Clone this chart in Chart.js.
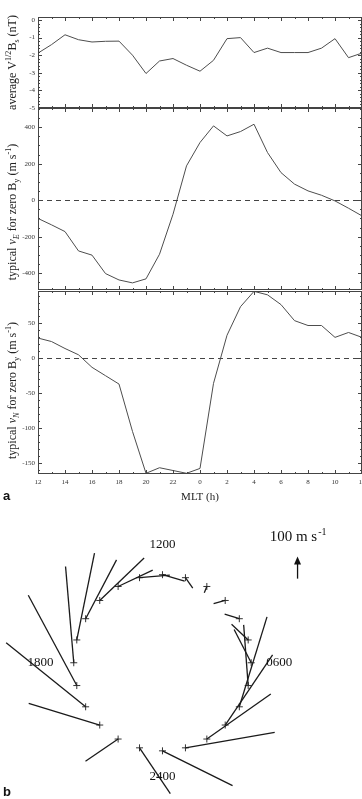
<!DOCTYPE html>
<html>
<head>
<meta charset="utf-8">
<script src="https://cdn.jsdelivr.net/npm/chart.js@4"></script>
<style>
  body { margin: 0; background: #fff; width: 362px; height: 799px; position: relative; overflow: hidden; }
  canvas { position: absolute; left: 0; }
  .tag { position: absolute; font: bold 13px "Liberation Sans", Arial, sans-serif; color: #111; }
</style>
</head>
<body>
<canvas id="bsChart" width="362" height="112" style="top:0"></canvas>
<canvas id="veChart" width="362" height="194" style="top:100px"></canvas>
<canvas id="vnChart" width="362" height="221" style="top:283px"></canvas>
<canvas id="dialChart" width="362" height="289" style="top:510px"></canvas>
<div class="tag" style="left:3px;top:488px">a</div>
<div class="tag" style="left:3px;top:784px">b</div>
<script>
// MLT hours, 12 → 12 of the next day
const hours = [12,13,14,15,16,17,18,19,20,21,22,23,24,25,26,27,28,29,30,31,32,33,34,35,36];
const mltTicks = [12,14,16,18,20,22,24,26,28,30,32,34,36];
const mltTickLabels = ['12','14','16','18','20','22','0','2','4','6','8','10','12'];

// average V^1/2 Bs (nT)
const avgBs = [-1.88,-1.4,-0.84,-1.12,-1.25,-1.21,-1.2,-2.0,-3.04,-2.33,-2.19,-2.57,-2.91,
               -2.29,-1.06,-1.0,-1.85,-1.6,-1.85,-1.85,-1.85,-1.6,-1.06,-2.14,-1.88];
const bsTicks = [0,-1,-2,-3,-4,-5];
// typical vE for zero By (m/s)
const vEast = [-100,-135,-172,-278,-301,-402,-437,-453,-431,-296,-77,188,316,
               407,352,376,416,261,151,88,51,27,-4,-44,-86];
const veTicks = [400,200,0,-200,-400];
// typical vN for zero By (m/s)
const vNorth = [29,24,14,5,-13,-25,-37,-105,-165,-157,-161,-165,-158,
                -36,33,74,96,91,77,54,47,47,30,37,30];
const vnTicks = [50,0,-50,-100,-150];

// dial labels (panel b)
const clockLabels = ['1200','1800','2400','0600'];
const clockHours = [12, 18, 24, 6];
const clockRadius = [537, 550, 518, 526];
const keySpeed = 100;

const serif = '"Liberation Serif","Times New Roman",serif';
const ink = '#333';

function drawRich(ctx, parts, cx, cy, size) {
  ctx.save();
  ctx.translate(cx, cy);
  ctx.rotate(-Math.PI / 2);
  const fontOf = p => (p.it ? 'italic ' : '') + ((p.sub || p.sup) ? size * 0.68 : size) + 'px ' + serif;
  let w = 0;
  parts.forEach(p => { ctx.font = fontOf(p); w += ctx.measureText(p.t).width; });
  let xx = -w / 2;
  ctx.fillStyle = '#222';
  ctx.textBaseline = 'alphabetic';
  parts.forEach(p => {
    ctx.font = fontOf(p);
    const dy = p.sub ? size * 0.22 : p.sup ? -size * 0.4 : 0;
    ctx.fillText(p.t, xx, size * 0.35 + dy);
    xx += ctx.measureText(p.t).width;
  });
  ctx.restore();
}

// box with inward ticks on every side, zero line, and the y title
const framePlugin = {
  id: 'frame',
  afterDatasetsDraw(chart, args, o) {
    const { ctx, chartArea: a, scales: { x, y } } = chart;
    const line = (x1, y1, x2, y2) => { ctx.beginPath(); ctx.moveTo(x1, y1); ctx.lineTo(x2, y2); ctx.stroke(); };
    ctx.save();
    ctx.strokeStyle = '#444';
    ctx.lineWidth = 1;
    if (o.zero) {
      const zy = Math.round(y.getPixelForValue(0)) + 0.5;
      ctx.setLineDash([5, 4]);
      line(a.left, zy, a.right, zy);
      ctx.setLineDash([]);
    }
    ctx.strokeRect(a.left + 0.5, a.top + 0.5, a.right - a.left - 1, a.bottom - a.top - 1);
    const marks = (min, max, step, every, fn) => {
      for (let k = Math.ceil(min / step - 1e-9); k * step <= max + 1e-9; k++) fn(k * step, k % every === 0 ? 4 : 2);
    };
    marks(x.min, x.max, 1, 2, (v, len) => {
      const px = Math.round(x.getPixelForValue(v)) + 0.5;
      line(px, a.top, px, a.top + len);
      line(px, a.bottom, px, a.bottom - len);
    });
    marks(y.min, y.max, o.yMinor, Math.round(o.yMajor / o.yMinor), (v, len) => {
      const py = Math.round(y.getPixelForValue(v)) + 0.5;
      line(a.left, py, a.left + len, py);
      line(a.right, py, a.right - len, py);
    });
    ctx.restore();
    drawRich(ctx, o.title, 12, (a.top + a.bottom) / 2 + (o.titleShift || 0), 12);
  }
};

function panel(id, values, yMin, yMax, yTicks, yMajor, yMinor, frame, pad, showX) {
  return new Chart(document.getElementById(id), {
    type: 'line',
    data: {
      datasets: [{
        data: hours.map((h, i) => ({ x: h, y: values[i] })),
        borderColor: '#4d4d4d',
        borderWidth: 1,
        pointRadius: 0,
        tension: 0
      }]
    },
    options: {
      responsive: false,
      animation: false,
      devicePixelRatio: 1,
      layout: { padding: pad },
      plugins: {
        legend: { display: false },
        tooltip: { enabled: false },
        frame: Object.assign({ yMajor: yMajor, yMinor: yMinor }, frame)
      },
      scales: {
        x: {
          type: 'linear', min: 12, max: 36, display: showX,
          grid: { display: false, drawTicks: false },
          border: { display: false },
          afterBuildTicks(s) { s.ticks = mltTicks.map(v => ({ value: v })); },
          ticks: {
            autoSkip: false, maxRotation: 0, padding: 4,
            font: { family: serif, size: 7 }, color: ink,
            callback: (v, i) => mltTickLabels[i]
          },
          title: { display: true, text: 'MLT (h)', font: { family: serif, size: 11 }, color: '#222', padding: 0 },
          afterFit(s) { if (showX) { s.height = 30; s.paddingLeft = 0; s.paddingRight = 0; } }
        },
        y: {
          min: yMin, max: yMax,
          grid: { display: false, drawTicks: false },
          border: { display: false },
          afterBuildTicks(s) { s.ticks = yTicks.map(v => ({ value: v })); },
          ticks: { padding: 3, font: { family: serif, size: 7 }, color: ink },
          afterFit(s) { s.width = 38; s.paddingTop = 0; s.paddingBottom = 0; }
        }
      }
    },
    plugins: [framePlugin]
  });
}

panel('bsChart', avgBs, -5, 0.17, bsTicks, 1, 0.2,
  { title: [{ t: 'average V' }, { t: '1/2', sup: true }, { t: 'B' }, { t: 's', sub: true }, { t: ' (nT)' }] },
  { top: 17, right: 0, bottom: 4, left: 0 }, false);

panel('veChart', vEast, -492, 505, veTicks, 200, 50,
  { zero: true, titleShift: 13,
    title: [{ t: 'typical ' }, { t: 'v', it: true }, { t: 'E', sub: true, it: true }, { t: ' for zero B' },
            { t: 'y', sub: true }, { t: ' (m s' }, { t: '-1', sup: true }, { t: ')' }] },
  { top: 8, right: 0, bottom: 4, left: 0 }, false);

panel('vnChart', vNorth, -166, 96.5, vnTicks, 50, 10,
  { zero: true, titleShift: 8,
    title: [{ t: 'typical ' }, { t: 'v', it: true }, { t: 'N', sub: true, it: true }, { t: ' for zero B' },
            { t: 'y', sub: true }, { t: ' (m s' }, { t: '-1', sup: true }, { t: ')' }] },
  { top: 8, right: 0, bottom: 0, left: 0 }, true);

// ---- panel b: vectors on an MLT dial (noon up, dusk left), units of m/s
const R = 400;
const polar = (h, r) => {
  const t = (h - 12) * Math.PI / 12;
  return { x: -r * Math.sin(t), y: r * Math.cos(t), t: t };
};
const dialHours = hours.slice(0, 24);
const crossPts = dialHours.map(h => { const p = polar(h, R); return { x: p.x, y: p.y }; });
const vectorSets = dialHours.map((h, i) => {
  const p = polar(h, R), c = Math.cos(p.t), s = Math.sin(p.t);
  // east = direction of increasing MLT, north = toward the pole (centre)
  return {
    data: [{ x: p.x, y: p.y },
           { x: p.x - vEast[i] * c + vNorth[i] * s, y: p.y - vEast[i] * s - vNorth[i] * c }],
    showLine: true, borderColor: '#1a1a1a', borderWidth: 1.3, pointRadius: 0, clip: false
  };
});

const dialText = {
  id: 'dialText',
  afterDraw(chart) {
    const { ctx, scales: { x, y } } = chart;
    ctx.save();
    ctx.fillStyle = '#111';
    ctx.font = '13px ' + serif;
    ctx.textAlign = 'center';
    ctx.textBaseline = 'middle';
    clockLabels.forEach((t, i) => {
      const p = polar(clockHours[i], clockRadius[i]);
      ctx.fillText(t, x.getPixelForValue(p.x), y.getPixelForValue(p.y));
    });
    // speed key
    const kx = x.getPixelForValue(609), k0 = y.getPixelForValue(382), k1 = y.getPixelForValue(382 + keySpeed);
    ctx.strokeStyle = '#111';
    ctx.lineWidth = 1.3;
    ctx.beginPath(); ctx.moveTo(kx, k0); ctx.lineTo(kx, k1 + 5); ctx.stroke();
    ctx.beginPath(); ctx.moveTo(kx, k1); ctx.lineTo(kx - 3.5, k1 + 8); ctx.lineTo(kx + 3.5, k1 + 8); ctx.closePath(); ctx.fill();
    ctx.textAlign = 'left';
    ctx.textBaseline = 'alphabetic';
    ctx.font = '15px ' + serif;
    const main = '100 m s', w1 = ctx.measureText(main).width;
    ctx.font = '10px ' + serif;
    const w2 = ctx.measureText('-1').width;
    const tx = kx - (w1 + w2) / 2, ty = y.getPixelForValue(553);
    ctx.font = '15px ' + serif;
    ctx.fillText(main, tx, ty);
    ctx.font = '10px ' + serif;
    ctx.fillText('-1', tx + w1 + 1, ty - 6);
    ctx.restore();
  }
};

new Chart(document.getElementById('dialChart'), {
  type: 'scatter',
  data: {
    datasets: vectorSets.concat([{
      data: crossPts,
      pointStyle: 'cross', pointRadius: 3.5, borderColor: '#333', borderWidth: 1
    }])
  },
  options: {
    responsive: false,
    animation: false,
    devicePixelRatio: 1,
    layout: { padding: 0 },
    plugins: { legend: { display: false }, tooltip: { enabled: false } },
    scales: {
      x: { type: 'linear', min: -710, max: 877, display: false },
      y: { type: 'linear', min: -596, max: 671, display: false }
    }
  },
  plugins: [dialText]
});
</script>
</body>
</html>
